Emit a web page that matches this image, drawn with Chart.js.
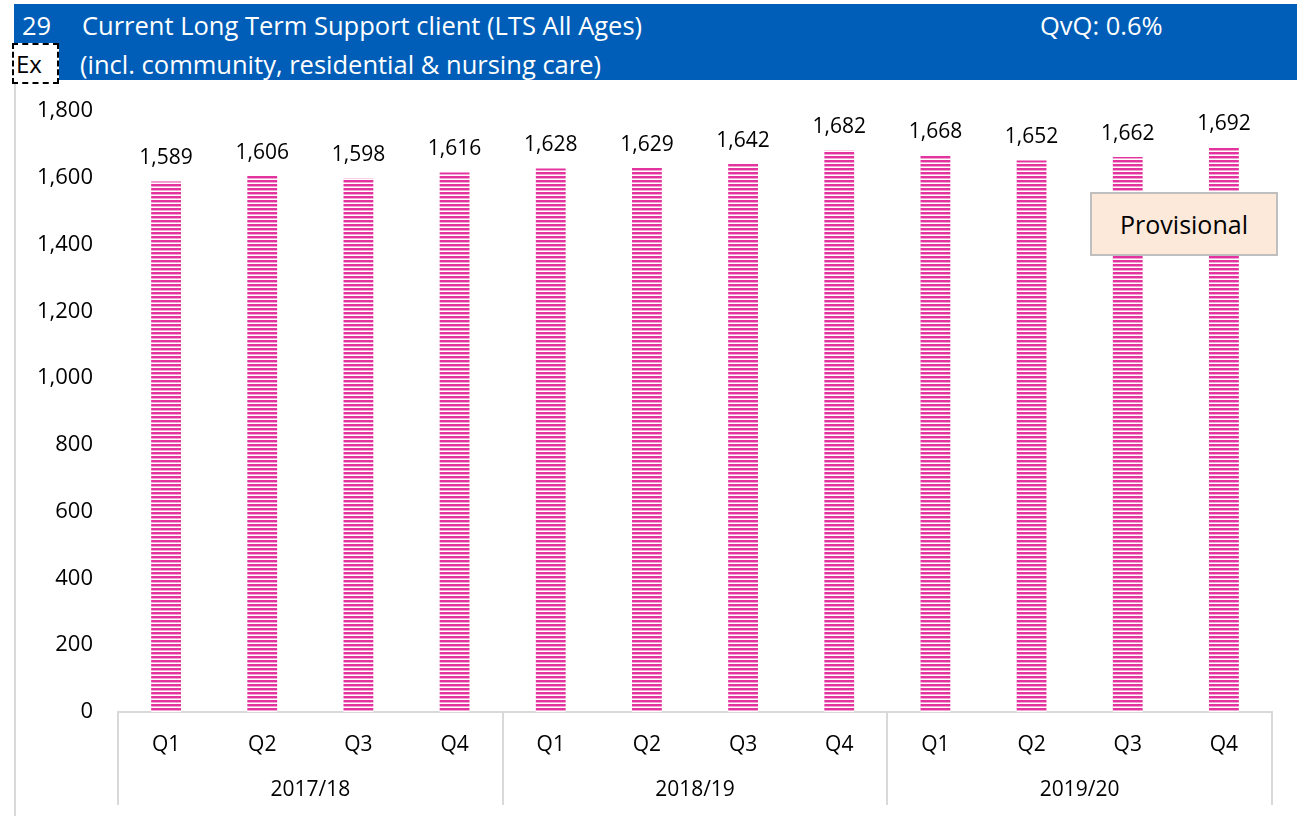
<!DOCTYPE html>
<html>
<head>
<meta charset="utf-8">
<script src="https://cdn.jsdelivr.net/npm/chart.js@4.4.1/dist/chart.umd.min.js"></script>
<style>
  body { margin: 0; width: 1297px; height: 816px; background: #fff; position: relative; overflow: hidden; font-family: "Open Sans", sans-serif; }
  #header { position: absolute; left: 14px; top: 4px; width: 1283px; height: 76px; background: #005EB8; color: #fff; font-size: 25.5px; }
  #header span { position: absolute; white-space: nowrap; line-height: 34px; }
  #exbox { position: absolute; left: 12px; top: 43px; width: 41px; height: 37px; background: #fff; border: 2px dashed #000; font-size: 24px; line-height: 37px; padding-left: 2px; }
  #leftline { position: absolute; left: 14px; top: 84px; width: 2px; height: 732px; background: #d9d9d9; }
  #wrap { position: absolute; left: 0; top: 84px; width: 1297px; height: 732px; }
  #prov { position: absolute; left: 1090px; top: 192px; width: 184px; height: 60px; background: #FCE9DA; border: 2px solid #BFBFBF; font-size: 25px; line-height: 60px; text-align: center; color: #000; }
</style>
</head>
<body>
<div id="header">
  <span style="left:8px; top:4px;">29</span>
  <span style="left:68px; top:4px;">Current Long Term Support client (LTS All Ages)</span>
  <span style="left:1026px; top:4px;">QvQ: 0.6%</span>
  <span style="left:66px; top:43px;">(incl. community, residential &amp; nursing care)</span>
</div>
<div id="exbox">Ex</div>
<div id="leftline"></div>
<div id="wrap"><canvas id="chart"></canvas></div>
<div id="prov">Provisional</div>
<script>
const quarters = ["Q1", "Q2", "Q3", "Q4", "Q1", "Q2", "Q3", "Q4", "Q1", "Q2", "Q3", "Q4"];
const years = ["2017/18", "2018/19", "2019/20"];
const clients = [1589, 1606, 1598, 1616, 1628, 1629, 1642, 1682, 1668, 1652, 1662, 1692];
const yTicks = [0, 200, 400, 600, 800, 1000, 1200, 1400, 1600, 1800];

// striped fill like the excel pattern
const pc = document.createElement("canvas");
pc.width = 4; pc.height = 4;
const pctx = pc.getContext("2d");
pctx.fillStyle = "#fff"; pctx.fillRect(0, 0, 4, 4);
pctx.fillStyle = "#E2339E"; pctx.fillRect(0, 0, 4, 2);
pctx.fillStyle = "#F3A2D2"; pctx.fillRect(0, 2, 4, 1);
const ctx = document.getElementById("chart").getContext("2d");
const stripes = ctx.createPattern(pc, "repeat");

const font = { family: "'Open Sans', sans-serif", size: 22 };

const extras = {
  id: "extras",
  afterDatasetsDraw(chart) {
    const c = chart.ctx;
    const meta = chart.getDatasetMeta(0);
    c.save();
    c.fillStyle = "#000";
    c.font = "21px 'Open Sans', sans-serif";
    c.textAlign = "center";
    c.textBaseline = "alphabetic";
    meta.data.forEach((bar, i) => {
      c.fillText(clients[i].toLocaleString("en-GB"), bar.x, bar.y - 17);
    });
    // year groups
    const x = chart.scales.x;
    const bottom = x.top;
    c.strokeStyle = "#d9d9d9";
    c.lineWidth = 2;
    const edges = [x.left];
    for (let k = 1; k < years.length; k++) {
      edges.push((x.getPixelForValue(4 * k - 1) + x.getPixelForValue(4 * k)) / 2);
    }
    edges.push(x.right);
    edges.forEach(e => {
      c.beginPath();
      c.moveTo(Math.round(e), bottom);
      c.lineTo(Math.round(e), bottom + 93);
      c.stroke();
    });
    c.font = "21px 'Open Sans', sans-serif";
    c.textBaseline = "middle";
    years.forEach((y, k) => {
      c.fillText(y, (edges[k] + edges[k + 1]) / 2, bottom + 78);
    });
    c.restore();
  }
};

new Chart(ctx, {
  type: "bar",
  data: {
    labels: quarters,
    datasets: [{
      data: clients,
      backgroundColor: stripes,
      barPercentage: 0.31,
      categoryPercentage: 1
    }]
  },
  plugins: [extras],
  options: {
    responsive: true,
    maintainAspectRatio: false,
    animation: false,
    layout: { padding: { top: 27, right: 25, left: 0, bottom: 0 } },
    plugins: { legend: { display: false }, tooltip: { enabled: false } },
    scales: {
      x: {
        grid: { display: false },
        border: { display: true, color: "#d9d9d9", width: 2 },
        ticks: { color: "#000", font: { family: font.family, size: 21 }, padding: 12, maxRotation: 0 },
        afterFit: s => { s.height = 104; }
      },
      y: {
        min: 0,
        max: 1800,
        afterBuildTicks: s => { s.ticks = yTicks.map(v => ({ value: v })); },
        grid: { display: false, drawTicks: true, tickLength: 25 },
        border: { display: false },
        ticks: { color: "#000", font: font, padding: 0, callback: v => v.toLocaleString("en-GB") },
        afterFit: s => { s.width = 118; }
      }
    }
  }
});
</script>
</body>
</html>
